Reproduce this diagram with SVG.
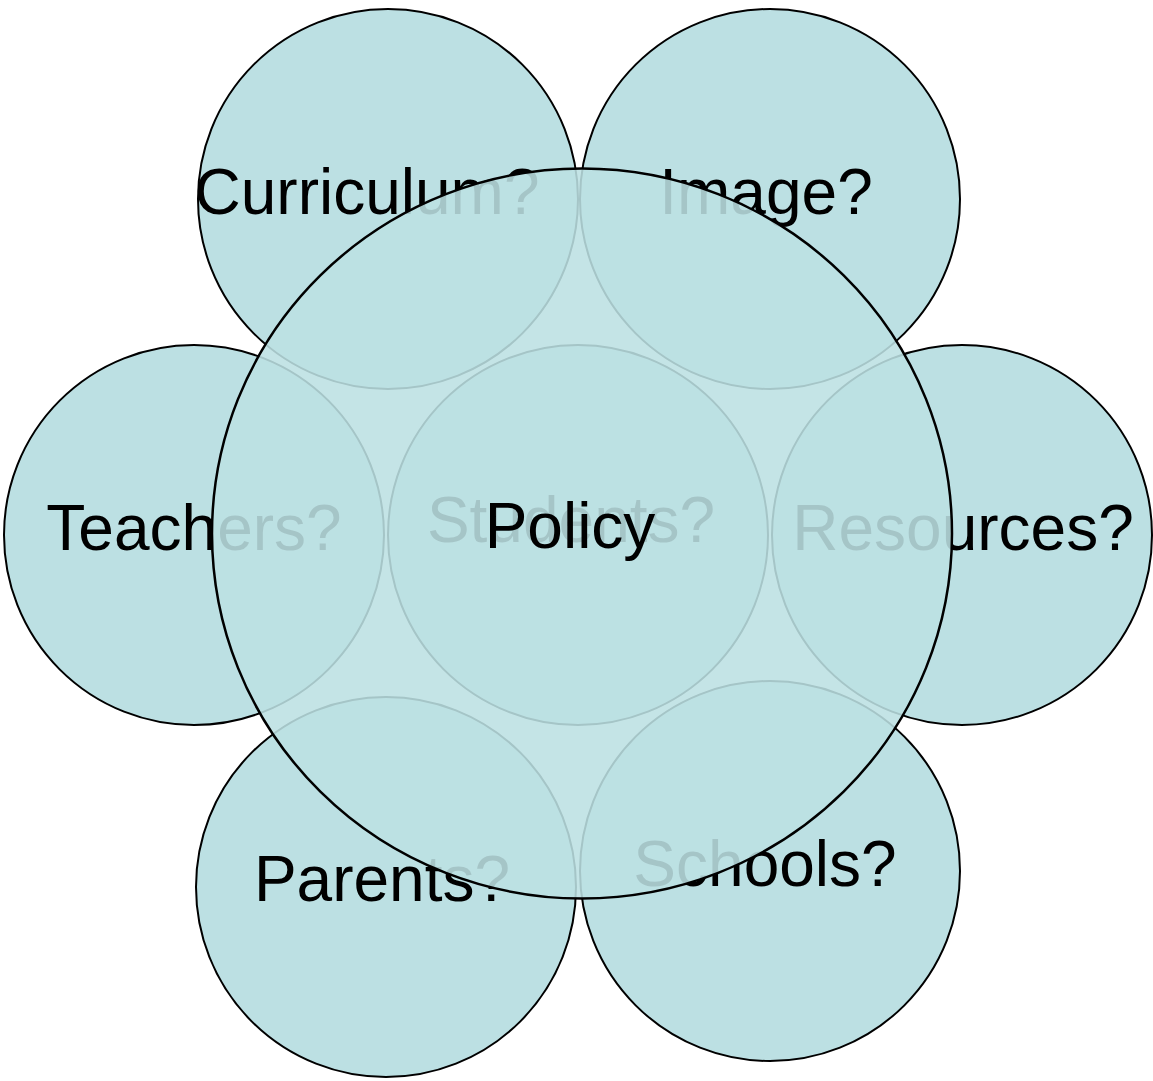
<svg xmlns="http://www.w3.org/2000/svg" width="1153" height="1081" viewBox="0 0 1153 1081">
<style>
.c{fill:#bce0e3;stroke:#000;stroke-width:2}
.t{font-family:"Liberation Sans",Arial,sans-serif;font-size:64px;fill:#000;text-anchor:middle}
.big{fill:#bce0e3;fill-opacity:0.88;stroke:#000;stroke-width:2.5}
</style>
<rect width="1153" height="1081" fill="#fff"/>
<g id="curriculum"><circle class="c" cx="388" cy="199" r="190"/><text class="t" x="367" y="214">Curriculum?</text></g>
<g id="image"><circle class="c" cx="770" cy="199" r="190"/><text class="t" x="766" y="214">Image?</text></g>
<g id="teachers"><circle class="c" cx="194" cy="535" r="190"/><text class="t" x="194" y="550">Teachers?</text></g>
<g id="students"><circle class="c" cx="578" cy="535" r="190"/><text class="t" x="571" y="542">Students?</text></g>
<g id="resources"><circle class="c" cx="962" cy="535" r="190"/><text class="t" x="963" y="550">Resources?</text></g>
<g id="parents"><circle class="c" cx="386" cy="887" r="190"/><text class="t" x="382" y="901">Parents?</text></g>
<g id="schools"><circle class="c" cx="770" cy="871" r="190"/><text class="t" x="765" y="886">Schools?</text></g>
<g id="policy"><ellipse class="big" cx="582" cy="533.5" rx="370" ry="365"/><text class="t" x="570" y="548">Policy</text></g>
<g id="connectors"/>
</svg>
